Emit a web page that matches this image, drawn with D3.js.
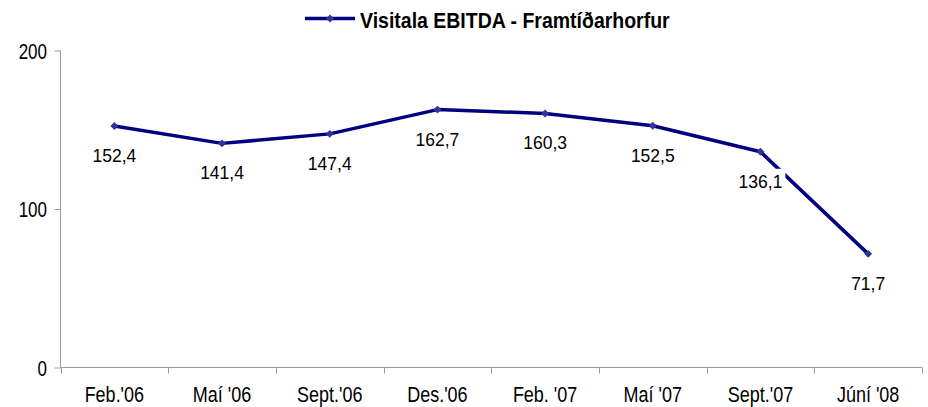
<!DOCTYPE html>
<html>
<head>
<meta charset="utf-8">
<script src="https://cdn.jsdelivr.net/npm/d3@7"></script>
<style>
  html, body { margin: 0; padding: 0; background: #fff; }
  svg { display: block; font-family: "Liberation Sans", Arial, sans-serif; }
</style>
</head>
<body>
<svg id="chart" width="928" height="407"></svg>
<script>
// Periods on the category axis
const categories = ["Feb.'06", "Maí '06", "Sept.'06", "Des.'06", "Feb. '07", "Maí '07", "Sept.'07", "Júní '08"];
// Index values per period
const values = [152.4, 141.4, 147.4, 162.7, 160.3, 152.5, 136.1, 71.7];
// Value axis ticks
const yTicks = [0, 100, 200];
const seriesName = "Visitala EBITDA - Framtíðarhorfur";

const svg = d3.select("#chart");
const W = 928;
const x0 = 60.5, x1 = W - 6;
const yBottom = 367.5, yTop = 50.5;

const x = d3.scaleBand().domain(categories).range([x0, x1]).padding(0);
const y = d3.scaleLinear().domain([0, 200]).range([yBottom, yTop]);
const cx = c => x(c) + x.bandwidth() / 2;

const axisColor = "#9a9a9a";
const lineColor = "#000080";
const markerColor = "#333399";

// Text drawn with a slight vertical stretch (tall, narrow lettering)
function label(parent, tx, ty, str, size, sy, anchor, weight) {
  return parent.append("text")
    .attr("transform", `translate(${tx},${ty}) scale(1,${sy})`)
    .attr("text-anchor", anchor)
    .attr("font-size", size)
    .attr("font-weight", weight || "normal")
    .attr("fill", "#000")
    .text(str);
}

// Value axis
const yAxis = svg.append("g")
  .attr("transform", `translate(${x0},0)`)
  .call(d3.axisLeft(y).tickValues(yTicks).tickSize(6).tickFormat(() => ""));
yAxis.select(".domain").attr("stroke", axisColor).attr("d", `M0,${yTop}V${yBottom}`);
yAxis.selectAll(".tick line").attr("stroke", axisColor);
yTicks.forEach(t => label(svg, x0 - 13.5, y(t) + 8, d3.format("d")(t), 17, 1.3, "end"));

// Category axis: ticks at the band boundaries, labels at band centres
const xAxisG = svg.append("g").attr("transform", `translate(0,${yBottom})`);
xAxisG.append("line")
  .attr("x1", x0).attr("x2", x1).attr("y1", 0).attr("y2", 0)
  .attr("stroke", axisColor).attr("stroke-width", 1);
const bounds = categories.map(c => x(c)).concat([x1]);
xAxisG.selectAll("line.tk").data(bounds).join("line")
  .attr("class", "tk")
  .attr("x1", d => Math.round(d) + 0.5).attr("x2", d => Math.round(d) + 0.5)
  .attr("y1", 0).attr("y2", 6)
  .attr("stroke", axisColor);
categories.forEach(c => label(svg, cx(c), 401.5, c, 18, 1.22, "middle"));

// Series line
const pts = categories.map((c, i) => ({ c, v: values[i] }));
const line = d3.line().x(d => cx(d.c)).y(d => y(d.v));
svg.append("path")
  .datum(pts)
  .attr("d", line)
  .attr("fill", "none")
  .attr("stroke", lineColor)
  .attr("stroke-width", 3.5)
  .attr("stroke-linejoin", "round");

// Diamond markers
const diamond = d3.symbol().type(d3.symbolDiamond2).size(40);
svg.selectAll("path.mk").data(pts).join("path")
  .attr("class", "mk")
  .attr("d", diamond)
  .attr("transform", d => `translate(${cx(d.c)},${y(d.v)})`)
  .attr("fill", markerColor);

// Value labels below each point, on a white box
const fmt = v => d3.format(".1f")(v).replace(".", ",");
const labels = svg.selectAll("g.lbl").data(pts).join("g")
  .attr("class", "lbl")
  .attr("transform", d => `translate(${cx(d.c)},${y(d.v) + 36})`);
labels.each(function (d) {
  const g = d3.select(this);
  const t = g.append("text")
    .attr("text-anchor", "middle")
    .attr("font-size", 17.5)
    .attr("fill", "#000")
    .text(fmt(d.v));
  const bb = t.node().getBBox();
  g.insert("rect", "text")
    .attr("x", bb.x - 3).attr("y", -19)
    .attr("width", bb.width + 6).attr("height", 24)
    .attr("fill", "#fff");
});

// Legend
const lg = svg.append("g").attr("transform", "translate(305,18.5)");
lg.append("line").attr("x1", 0).attr("x2", 50).attr("y1", 0).attr("y2", 0)
  .attr("stroke", lineColor).attr("stroke-width", 3.5);
lg.append("path").attr("d", diamond).attr("transform", "translate(25,0)").attr("fill", markerColor);
label(svg, 360, 27.5, seriesName, 19.5, 1.1, "start", "bold");
</script>
</body>
</html>
